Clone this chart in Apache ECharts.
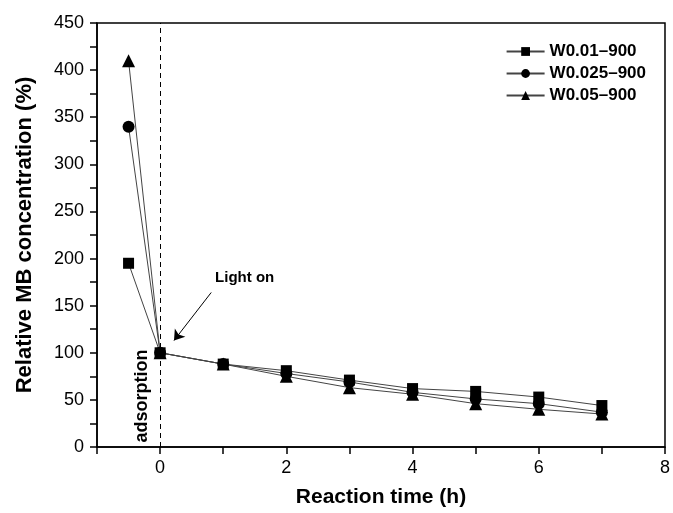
<!DOCTYPE html>
<html><head><meta charset="utf-8">
<script src="https://cdn.jsdelivr.net/npm/echarts@6/dist/echarts.min.js"></script>
<style>html,body{margin:0;padding:0;background:#fff;overflow:hidden}#c{width:673px;height:513px}</style>
</head><body><div id="c"></div>
<script>
const times = [-0.5, 0, 1, 2, 3, 4, 5, 6, 7];
const seriesNames = ['W0.01\u2013900', 'W0.025\u2013900', 'W0.05\u2013900'];
const w001 = [195, 100, 88, 81, 71, 62, 59, 53, 44];
const w0025 = [340, 100, 88, 78, 69, 58, 51, 46, 37];
const w005 = [410, 100, 88, 75, 63, 56, 46, 40, 35];
const xTicks = [0, 2, 4, 6, 8];
const yTicks = [0, 50, 100, 150, 200, 250, 300, 350, 400, 450];

const font = 'Liberation Sans, Arial, sans-serif';
const chart = echarts.init(document.getElementById('c'));
function mk(name, vals, sym, size, extra) {
  return Object.assign({
    name: name, type: 'line', data: times.map((t, i) => [t, vals[i]]),
    symbol: sym, symbolSize: size, z: 3,
    lineStyle: { color: '#444', width: 1 },
    itemStyle: { color: '#000' }
  }, extra || {});
}
chart.setOption({
  animation: false,
  backgroundColor: '#fff',
  grid: { left: 97, right: 3, top: 23, bottom: 66, show: true, borderColor: '#000', borderWidth: 1.5 },
  legend: {
    right: 22, top: 38, orient: 'vertical', itemGap: 5, itemWidth: 38, itemHeight: 11,
    textStyle: { fontFamily: font, fontWeight: 'bold', fontSize: 17, color: '#000' },
    data: seriesNames
  },
  xAxis: {
    type: 'value', min: -1, max: 8, interval: 1,
    name: 'Reaction time (h)', nameLocation: 'middle', nameGap: 40,
    nameTextStyle: { fontFamily: font, fontWeight: 'bold', fontSize: 21, color: '#000' },
    axisLine: { onZero: false, lineStyle: { color: '#000', width: 1.5 } },
    axisTick: { inside: false, length: 7, lineStyle: { color: '#000', width: 1.5 } },
    axisLabel: { fontFamily: font, fontSize: 18, color: '#000', margin: 12,
      formatter: v => xTicks.includes(v) ? String(v) : '' },
    splitLine: { show: false }
  },
  yAxis: {
    type: 'value', min: 0, max: 450, interval: 25,
    name: 'Relative MB concentration (%)', nameLocation: 'middle', nameGap: 61,
    nameTextStyle: { fontFamily: font, fontWeight: 'bold', fontSize: 22, color: '#000' },
    axisLine: { onZero: false, lineStyle: { color: '#000', width: 1.5 } },
    axisTick: { inside: false, length: 7, lineStyle: { color: '#000', width: 1.5 } },
    axisLabel: { fontFamily: font, fontSize: 18, color: '#000', margin: 13,
      formatter: v => yTicks.includes(v) ? String(v) : '' },
    splitLine: { show: false }
  },
  series: [
    mk(seriesNames[0], w001, 'rect', 11, {
      markLine: {
        silent: true, symbol: 'none',
        lineStyle: { color: '#000', type: [5, 4], width: 1 },
        label: { show: false },
        data: [{ xAxis: 0 }]
      }
    }),
    mk(seriesNames[1], w0025, 'circle', 12, {
      markLine: {
        silent: true, symbol: ['none', 'arrow'], symbolSize: 10,
        lineStyle: { color: '#000', type: 'solid', width: 1 },
        label: { show: false },
        data: [[{ coord: [0.81, 164] }, { coord: [0.22, 113] }]]
      }
    }),
    mk(seriesNames[2], w005, 'triangle', 13, {
      markPoint: {
        silent: true, symbol: 'circle', symbolSize: 0,
        data: [
          { coord: [1.34, 179], label: { show: true, formatter: 'Light on', fontFamily: font, fontWeight: 'bold', fontSize: 15, color: '#000' } },
          { coord: [-0.29, 54], label: { show: true, formatter: 'adsorption', rotate: 90, fontFamily: font, fontWeight: 'bold', fontSize: 18, color: '#000' } }
        ]
      }
    })
  ]
});
</script></body></html>
